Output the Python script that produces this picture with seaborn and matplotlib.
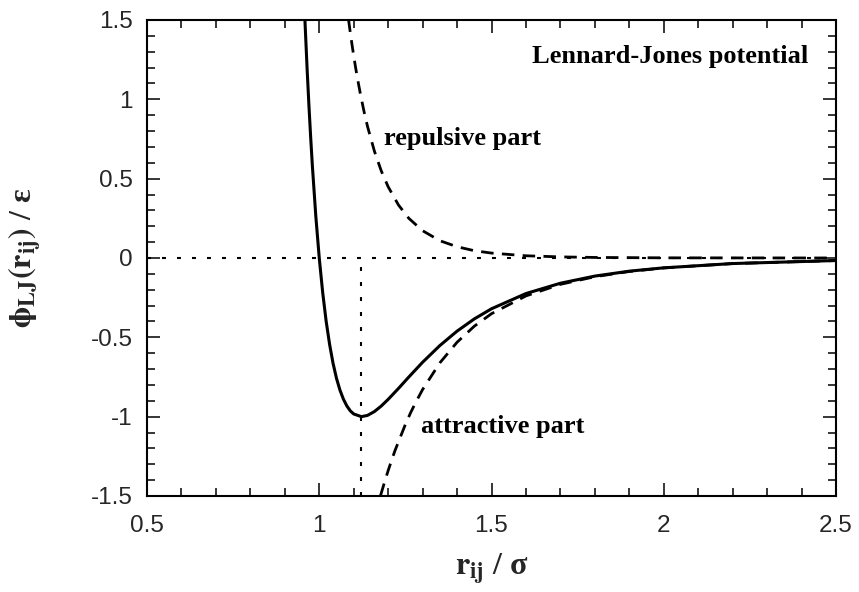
import matplotlib
matplotlib.use("Agg")
import matplotlib.pyplot as plt
from matplotlib.ticker import MultipleLocator
import seaborn as sns
import pandas as pd

# ---- data ----
r_total = [0.958, 0.965, 0.97, 0.975, 0.98, 0.99, 1.0, 1.01, 1.02, 1.03, 1.04, 1.05,
           1.06, 1.07, 1.08, 1.09, 1.10, 1.1225, 1.14, 1.16, 1.18, 1.20, 1.23, 1.26,
           1.30, 1.35, 1.40, 1.45, 1.50, 1.6, 1.7, 1.8, 1.9, 2.0, 2.2, 2.5]
phi_total = [1.519, 1.181, 0.963, 0.764, 0.582, 0.264, 0.0, -0.218, -0.398, -0.544,
             -0.663, -0.758, -0.832, -0.889, -0.932, -0.963, -0.983, -1.0, -0.992,
             -0.968, -0.933, -0.891, -0.822, -0.750, -0.657, -0.552, -0.461, -0.384,
             -0.320, -0.224, -0.159, -0.114, -0.083, -0.062, -0.035, -0.016]

r_rep = [1.085, 1.09, 1.095, 1.10, 1.105, 1.11, 1.12, 1.13, 1.14, 1.16, 1.18, 1.20,
         1.23, 1.26, 1.30, 1.35, 1.40, 1.45, 1.50, 1.6, 1.7, 1.8, 2.0, 2.5]
phi_rep = [1.503, 1.422, 1.346, 1.275, 1.207, 1.143, 1.027, 0.923, 0.830, 0.674,
           0.549, 0.449, 0.334, 0.250, 0.172, 0.109, 0.071, 0.046, 0.031, 0.014,
           0.007, 0.0035, 0.001, 0.0001]

r_att = [1.178, 1.18, 1.19, 1.20, 1.21, 1.22, 1.25, 1.265, 1.28, 1.30, 1.35, 1.40,
         1.45, 1.50, 1.6, 1.7, 1.8, 1.9, 2.0, 2.2, 2.5]
phi_att = [-1.497, -1.482, -1.409, -1.340, -1.275, -1.213, -1.049, -0.976, -0.910,
           -0.829, -0.661, -0.531, -0.430, -0.351, -0.239, -0.166, -0.118, -0.085,
           -0.0625, -0.035, -0.016]

r_min = 1.1225
x_range = [0.5, 2.5]
y_range = [-1.5, 1.5]

title_txt = "Lennard-Jones potential"
rep_txt = "repulsive part"
att_txt = "attractive part"

# ---- styling ----
sns.set_style("ticks")
plt.rcParams["font.family"] = ["Liberation Sans", "DejaVu Sans"]
plt.rcParams["mathtext.fontset"] = "custom"
plt.rcParams["mathtext.rm"] = "STIXGeneral:bold"
plt.rcParams["mathtext.it"] = "STIXGeneral:bold"
plt.rcParams["mathtext.bf"] = "STIXGeneral:bold"

fig = plt.figure(figsize=(8.59, 5.92), dpi=100)
ax = fig.add_axes([147 / 859, 1 - 496 / 592, (836 - 147) / 859, (496 - 20) / 592])

df_tot = pd.DataFrame({"r": r_total, "phi": phi_total})
df_rep = pd.DataFrame({"r": r_rep, "phi": phi_rep})
df_att = pd.DataFrame({"r": r_att, "phi": phi_att})

# reference lines (dotted)
dot = (0, (1.9, 5.3))
ax.plot(x_range, [0, 0], color="black", lw=1.5, linestyle=dot, zorder=1)
ax.plot([r_min, r_min], [y_range[0], 0], color="black", lw=1.5, linestyle=dot, zorder=1)

sns.lineplot(data=df_rep, x="r", y="phi", ax=ax, color="black", lw=2.0,
             sort=False, estimator=None, linestyle=(0, (4.5, 3)))
sns.lineplot(data=df_att, x="r", y="phi", ax=ax, color="black", lw=2.0,
             sort=False, estimator=None, linestyle=(0, (4.5, 3)))
sns.lineplot(data=df_tot, x="r", y="phi", ax=ax, color="black", lw=2.2,
             sort=False, estimator=None)

ax.set_xlim(*x_range)
ax.set_ylim(*y_range)
ax.xaxis.set_major_locator(MultipleLocator(0.5))
ax.xaxis.set_minor_locator(MultipleLocator(0.1))
ax.yaxis.set_major_locator(MultipleLocator(0.5))
ax.yaxis.set_minor_locator(MultipleLocator(0.1))
ax.xaxis.set_major_formatter(plt.FuncFormatter(lambda v, p: f"{v:g}"))
ax.yaxis.set_major_formatter(plt.FuncFormatter(lambda v, p: f"{v:g}"))

ax.tick_params(which="both", direction="in", top=True, right=True, width=1.1, color="black")
ax.tick_params(which="major", length=9.4, labelsize=17.5)
ax.tick_params(which="minor", length=5.8)
ax.tick_params(axis="x", which="major", pad=13.5)
ax.tick_params(axis="y", which="major", pad=10.5)
for s in ax.spines.values():
    s.set_linewidth(1.5)
    s.set_color("black")

ax.set_xlabel(r"$\mathrm{r_{ij}}$ / σ", family="Liberation Serif", weight="bold",
              fontsize=23)
ax.set_ylabel(r"$\mathrm{ϕ_{LJ}(r_{ij})}$ / ε", family="Liberation Serif", weight="bold",
              fontsize=23)
ax.xaxis.set_label_coords(0.5, -0.117)
ax.yaxis.set_label_coords(-0.150, 0.5)

tfont = dict(family="Liberation Serif", weight="bold", fontsize=19, color="black")
ax.text(2.419, 1.229, title_txt, ha="right", va="baseline", **tfont)
ax.text(1.188, 0.712, rep_txt, ha="left", va="baseline", **tfont)
ax.text(1.295, -1.102, att_txt, ha="left", va="baseline", **tfont)

fig.savefig("out.png", dpi=100)
